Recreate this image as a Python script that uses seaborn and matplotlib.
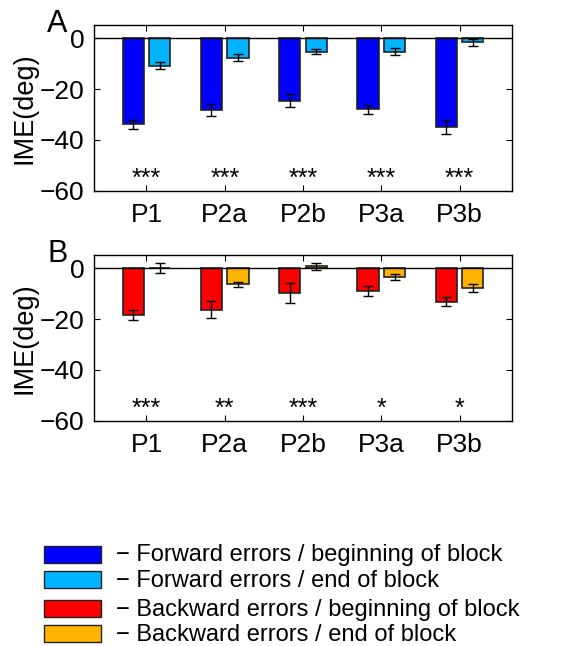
import numpy as np
import pandas as pd
import seaborn as sns
import matplotlib
matplotlib.use("Agg")
import matplotlib.pyplot as plt
from matplotlib.patches import Rectangle

sns.set_theme(style="white")
plt.rcParams['font.family'] = ['Liberation Sans', 'DejaVu Sans']
plt.rcParams['text.color'] = 'black'
plt.rcParams['axes.labelcolor'] = 'black'

phases = ["P1", "P2a", "P2b", "P3a", "P3b"]

fwd_begin = [-33.9, -28.4, -24.6, -28.0, -34.9]
fwd_begin_err = [1.8, 2.4, 2.6, 1.8, 2.9]
fwd_end = [-10.9, -7.6, -5.4, -5.3, -1.6]
fwd_end_err = [1.4, 1.4, 1.0, 1.3, 1.4]

bwd_begin = [-18.4, -16.3, -9.8, -9.0, -13.2]
bwd_begin_err = [1.8, 3.4, 3.8, 2.0, 1.8]
bwd_end = [0.0, -6.4, 0.7, -3.4, -7.8]
bwd_end_err = [2.0, 1.0, 1.5, 1.2, 1.4]

sig_A = ["***", "***", "***", "***", "***"]
sig_B = ["***", "**", "***", "*", "*"]

labels = ["Forward errors / beginning of block",
          "Forward errors / end of block",
          "Backward errors / beginning of block",
          "Backward errors / end of block"]
colors = ["#0000FF", "#00B4FF", "#FF0000", "#FFB400"]
edge = "#222222"

fig = plt.figure(figsize=(5.87, 6.46), dpi=100)
W, H = 587, 646
axA = fig.add_axes([94.3 / W, 1 - 190.7 / H, 417.4 / W, 165.7 / H])
axB = fig.add_axes([94.3 / W, 1 - 420.7 / H, 417.4 / W, 165.7 / H])


def draw(ax, v1, e1, v2, e2, l1, l2, c1, c2, sig, letter):
    df = pd.DataFrame({
        "phase": phases * 2,
        "val": list(v1) + list(v2),
        "cond": [l1] * 5 + [l2] * 5,
    })
    sns.barplot(data=df, x="phase", y="val", hue="cond", hue_order=[l1, l2],
                palette=[c1, c2], saturation=1, width=0.68, gap=0.2,
                errorbar=None, edgecolor=edge, linewidth=1.2, legend=False,
                ax=ax)
    errs = list(e1) + list(e2)
    vals = list(v1) + list(v2)
    for p, v, e in zip(ax.patches[:10], vals, errs):
        xc = p.get_x() + p.get_width() / 2
        ax.errorbar(xc, v, yerr=e, fmt="none", ecolor="black",
                    elinewidth=1.0, capsize=3.5, capthick=1.0, zorder=5)
    ax.axhline(0, color="black", lw=1.0, zorder=4)
    ax.set_xlim(-0.667, 4.667)
    ax.set_ylim(-60, 5.2)
    ax.set_yticks([0, -20, -40, -60])
    ax.set_yticklabels(["0", "\u221220", "\u221240", "\u221260"])
    ax.set_xlabel("")
    ax.set_ylabel("IME(deg)", fontsize=19.5)
    ax.tick_params(axis="both", direction="in", length=4, width=0.8,
                   labelsize=19, colors="black", top=True, right=True,
                   bottom=True, left=True)
    ax.tick_params(axis="x", pad=9)
    ax.tick_params(axis="y", pad=7)
    for s in ax.spines.values():
        s.set_visible(True)
        s.set_color("black")
        s.set_linewidth(1.0)
    for i, s in enumerate(sig):
        ax.text(i, -55.2, s, ha="center", va="center", fontsize=18,
                color="black")
    ax.text(-0.113, 0.958, letter, transform=ax.transAxes, fontsize=22,
            ha="left", va="baseline")


draw(axA, fwd_begin, fwd_begin_err, fwd_end, fwd_end_err,
     labels[0], labels[1], colors[0], colors[1], sig_A, "A")
draw(axB, bwd_begin, bwd_begin_err, bwd_end, bwd_end_err,
     labels[2], labels[3], colors[2], colors[3], sig_B, "B")
axA.yaxis.set_label_coords(-0.135, 0.5)
axB.yaxis.set_label_coords(-0.135, 0.5)

# legend
row_centers = [554.5, 579.7, 608.7, 633.7]
for c, lab, yc in zip(colors, labels, row_centers):
    fig.add_artist(Rectangle((44 / W, 1 - (yc + 8.5) / H), 57 / W, 17 / H,
                             transform=fig.transFigure, facecolor=c,
                             edgecolor=edge, linewidth=1.0))
    fig.text(116 / W, 1 - (yc + 1) / H, "\u2212 " + lab, fontsize=17,
             ha="left", va="center", color="black")

fig.savefig("out.png", dpi=100)
